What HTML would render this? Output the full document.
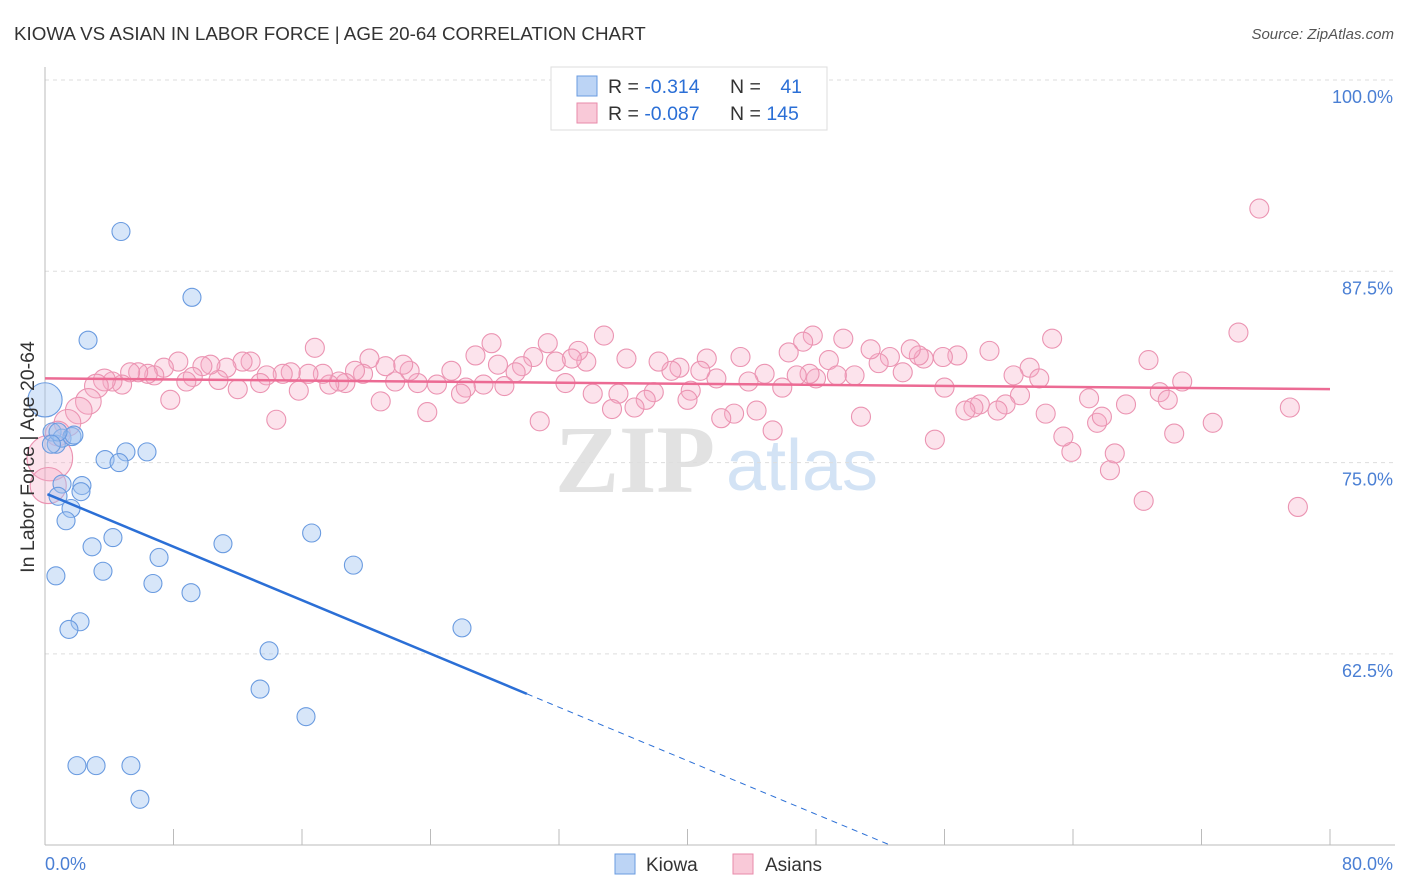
<!DOCTYPE html>
<html><head><meta charset="utf-8"><style>
body{margin:0;background:#fff;font-family:"Liberation Sans",sans-serif}
svg{display:block}
</style></head><body>
<svg id="c" width="1406" height="892" xmlns="http://www.w3.org/2000/svg">
<text x="14" y="40" font-size="18.8" fill="#333">KIOWA VS ASIAN IN LABOR FORCE | AGE 20-64 CORRELATION CHART</text>
<text x="1394" y="39" font-size="15" fill="#555" text-anchor="end" font-style="italic">Source: ZipAtlas.com</text>
<g>
<text x="635" y="492" font-size="96" fill="#e2e2e2" text-anchor="middle" font-family="Liberation Serif,serif" font-weight="bold">ZIP</text>
<text x="802" y="490" font-size="72" fill="#d3e3f5" text-anchor="middle">atlas</text>
</g>
<g id="grid"></g>
<g id="axes"></g>
<g id="pts"></g>
<g id="lines"></g>
<text x="34" y="457" font-size="19.5" fill="#333" text-anchor="middle" transform="rotate(-90 34 457)">In Labor Force | Age 20-64</text>
<g>
<rect x="551" y="67" width="276" height="63" fill="#fff" stroke="#ddd"/>
<rect x="577" y="76" width="20" height="20" fill="#bcd4f5" stroke="#6a9be0"/>
<rect x="577" y="103" width="20" height="20" fill="#f9c9d8" stroke="#e88aaa"/>
<text x="608" y="93" font-size="19.5" fill="#333">R = <tspan fill="#2b6fd6">-0.314</tspan></text>
<text x="730" y="93" font-size="19.5" fill="#333">N = <tspan fill="#2b6fd6" dx="14">41</tspan></text>
<text x="608" y="120" font-size="19.5" fill="#333">R = <tspan fill="#2b6fd6">-0.087</tspan></text>
<text x="730" y="120" font-size="19.5" fill="#333">N = <tspan fill="#2b6fd6">145</tspan></text>
</g>
<g>
<rect x="615" y="854" width="20" height="20" fill="#bcd4f5" stroke="#6a9be0"/>
<text x="646" y="871" font-size="19" fill="#333">Kiowa</text>
<rect x="733" y="854" width="20" height="20" fill="#f9c9d8" stroke="#e88aaa"/>
<text x="765" y="871" font-size="19" fill="#333">Asians</text>
</g>
</svg>
<script>
const xTickLabels=["0.0%","80.0%"];
const yTicks=[100,87.5,75,62.5];
const yTickLabels=["100.0%","87.5%","75.0%","62.5%"];
const kiowaX=[0,0.44,0.7,1.06,1.68,1.8,0.81,4.73,9.15,2.68,3.74,5.04,4.61,6.35,1.06,2.3,2.24,0.81,1.62,1.31,4.23,2.93,7.1,11.08,16.6,3.61,0.68,6.72,9.09,19.2,2.18,1.49,25.96,13.95,13.39,16.25,1.99,3.18,5.35,5.91,0.4];
const kiowaY=[79.1,77.0,76.2,76.6,76.7,76.8,77.0,90.1,85.8,83.0,75.2,75.7,75.0,75.7,73.6,73.5,73.1,72.8,72.0,71.2,70.1,69.5,68.8,69.7,70.4,67.9,67.6,67.1,66.5,68.3,64.6,64.1,64.2,62.7,60.2,58.4,55.2,55.2,55.2,53.0,76.2];
const kiowaSize=[1.9,1,1,1,1,1,1,1,1,1,1,1,1,1,1,1,1,1,1,1,1,1,1,1,1,1,1,1,1,1,1,1,1,1,1,1,1,1,1,1,1];
const asianX=[75.6,74.3,78.0,68.4,66.3,66.6,63.9,63.4,65.5,65.8,67.3,65.0,69.4,69.9,70.8,70.3,72.7,77.5,68.7,62.7,61.3,61.9,60.3,62.3,58.8,60.7,59.8,59.3,58.2,57.8,57.3,56.0,56.8,55.9,55.4,54.7,54.4,53.9,53.4,52.6,51.9,51.4,50.8,50.4,49.7,48.8,49.3,48.0,47.6,47.8,47.2,46.3,45.9,46.8,45.3,44.8,44.3,43.8,43.3,42.9,42.1,41.8,41.2,40.8,40.2,40.0,39.5,39.0,38.2,37.9,37.4,36.7,35.7,35.3,36.2,34.8,34.1,33.7,33.2,32.8,31.8,31.3,32.4,30.8,30.4,29.7,29.3,28.6,28.2,27.8,27.3,26.8,26.2,25.9,25.3,24.4,23.8,23.2,22.7,22.3,21.8,21.2,20.9,20.2,19.8,19.3,18.7,18.3,17.7,17.3,16.8,16.4,15.8,15.3,14.8,14.4,13.8,13.4,12.8,12.3,12.0,11.3,10.8,10.3,9.8,9.2,8.8,8.3,7.8,7.4,6.8,6.4,5.8,5.3,4.8,4.2,3.7,3.2,2.7,2.1,1.4,0.8,0.3,0.2];
const asianY=[91.6,83.5,72.1,72.5,74.5,75.6,75.7,76.7,77.6,78.0,78.8,79.2,79.6,79.1,80.3,76.9,77.6,78.6,81.7,83.1,81.2,80.5,80.7,78.2,82.3,79.4,78.8,78.4,78.8,78.6,78.4,79.9,82.0,81.9,76.5,81.8,82.0,82.4,80.9,81.9,81.5,82.4,78.0,80.7,83.1,81.7,80.7,80.5,80.8,83.3,82.9,82.2,79.9,80.7,77.1,80.8,78.4,80.3,81.9,78.2,77.9,80.5,81.8,81.0,79.7,79.1,81.2,81.0,81.6,79.6,79.1,78.6,79.5,78.5,81.8,83.3,79.5,81.6,82.3,81.8,81.6,82.8,80.2,77.7,81.9,81.3,80.9,80.0,81.4,82.8,80.1,82.0,79.9,79.5,81.0,80.1,78.3,80.2,81.0,81.4,80.3,81.3,79.0,81.8,80.8,81.0,80.2,80.3,80.1,80.8,82.5,80.8,79.7,80.9,80.8,77.8,80.7,80.2,81.6,81.6,79.8,81.2,80.4,81.4,81.3,80.6,80.3,81.6,79.1,81.2,80.7,80.8,80.9,80.9,80.1,80.3,80.4,80.0,79.0,78.4,77.6,76.9,75.3,73.5];
const bigSizes=[1.15,1.25,1.35,1.4,1.4,1.3,2.4,1.9];
const asianSize=asianX.map((v,i)=>i>=asianX.length-8?bigSizes[i-(asianX.length-8)]:1);
const kiowaTrend=[73.0,-0.437];
const asianTrend=[80.5,-0.00875];
const X=v=>45+v/80*1285, Y=v=>80+(100-v)/12.5*191.3;
const NS="http://www.w3.org/2000/svg";
function mk(t,a,p){const e=document.createElementNS(NS,t);for(const k in a)e.setAttribute(k,a[k]);p.appendChild(e);return e;}
const grid=document.getElementById('grid'),axes=document.getElementById('axes'),pts=document.getElementById('pts'),lines=document.getElementById('lines');
yTicks.forEach((t,i)=>{
 const g=mk('line',{x1:45,x2:1395,y1:Y(t),y2:Y(t),stroke:'#ddd','stroke-dasharray':'4 4'},grid);
 
 
 const l=mk('text',{x:1393,y:Y(t)+23,'font-size':18,fill:'#4a7fd4','text-anchor':'end'},axes);l.textContent=yTickLabels[i];
 
 
});
mk('line',{x1:45,x2:45,y1:67,y2:845,stroke:'#bbb'},axes);
mk('line',{x1:45,x2:1395,y1:845,y2:845,stroke:'#bbb'},axes);
for(let i=0;i<=10;i++){const tk=mk('line',{x1:X(i*8),x2:X(i*8),y1:829,y2:845,stroke:'#bbb'},axes);
 
 }
const xl0=mk('text',{x:45,y:870,'font-size':18,fill:'#4a7fd4'},axes);xl0.textContent=xTickLabels[0];


const xl1=mk('text',{x:1393,y:870,'font-size':18,fill:'#4a7fd4','text-anchor':'end'},axes);xl1.textContent=xTickLabels[1];


asianX.forEach((v,i)=>{const c=mk('circle',{cx:X(v),cy:Y(asianY[i]),r:9.5*asianSize[i],fill:'rgba(246,170,196,0.33)',stroke:'#eb94b2','stroke-width':1.1},pts);
 
 });
kiowaX.forEach((v,i)=>{const c=mk('circle',{cx:X(v),cy:Y(kiowaY[i]),r:9*kiowaSize[i],fill:'rgba(160,196,240,0.42)',stroke:'#6a9be0','stroke-width':1.1},pts);
 
 });
const a=mk('line',{x1:X(0),y1:Y(asianTrend[0]),x2:X(80),y2:Y(asianTrend[0]+asianTrend[1]*80),stroke:'#ec6b94','stroke-width':2.5},lines);


const k=mk('line',{x1:X(0.15),y1:Y(kiowaTrend[0]+kiowaTrend[1]*0.15),x2:X(30),y2:Y(kiowaTrend[0]+kiowaTrend[1]*30),stroke:'#2b6fd6','stroke-width':2.5},lines);


const xe=(50-kiowaTrend[0])/kiowaTrend[1];
const kd=mk('line',{x1:X(30),y1:Y(kiowaTrend[0]+kiowaTrend[1]*30),x2:X(xe),y2:Y(50),stroke:'#2b6fd6','stroke-width':1,'stroke-dasharray':'6 5'},lines);


</script>
</body></html>
